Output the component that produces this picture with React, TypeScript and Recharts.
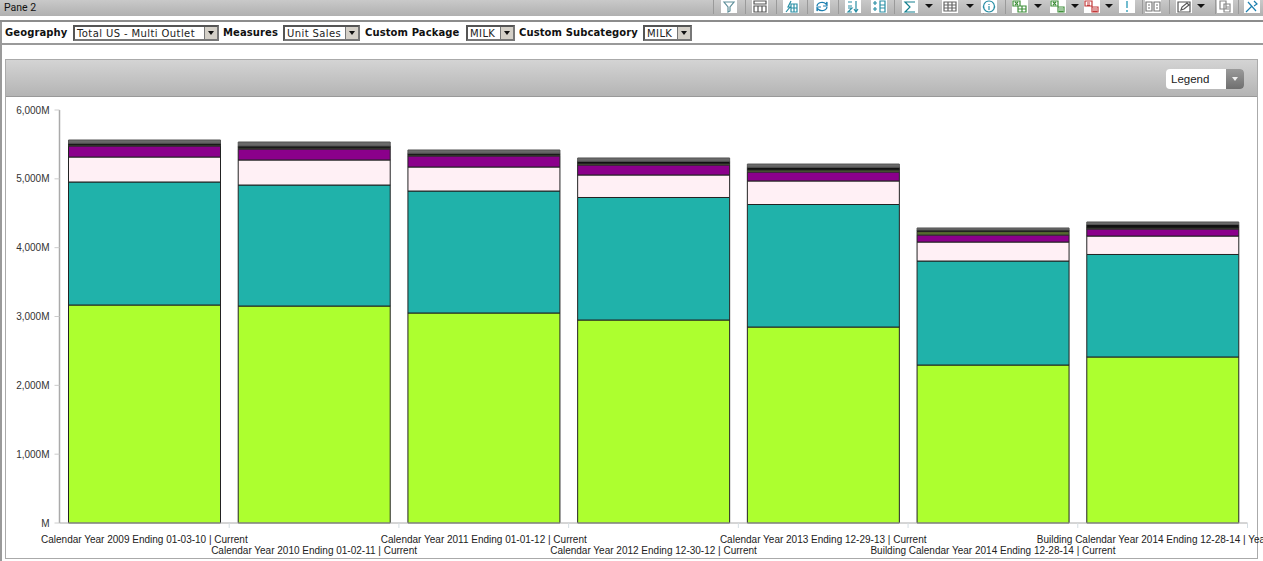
import { Bar, BarChart, XAxis, YAxis } from "recharts";

const categories = [
  "Calendar Year 2009 Ending 01-03-10 | Current",
  "Calendar Year 2010 Ending 01-02-11 | Current",
  "Calendar Year 2011 Ending 01-01-12 | Current",
  "Calendar Year 2012 Ending 12-30-12 | Current",
  "Calendar Year 2013 Ending 12-29-13 | Current",
  "Building Calendar Year 2014 Ending 12-28-14 | Current",
  "Building Calendar Year 2014 Ending 12-28-14 | Year Ago",
];

// segment heights per bar, bottom to top (millions of units)
const greenValues = [3167, 3152, 3051, 2949, 2847, 2295, 2412];
const tealValues = [1787, 1758, 1772, 1780, 1780, 1511, 1489];
const pinkValues = [363, 364, 349, 327, 342, 276, 268];
const purpleValues = [160, 159, 160, 145, 130, 102, 102];
const oliveValues = [15, 15, 15, 20, 30, 50, 15];
const blackValues = [25, 30, 25, 35, 40, 22, 50];
const greyValues = [47, 57, 47, 47, 46, 30, 37];

const yTicks = [0, 1000, 2000, 3000, 4000, 5000, 6000];

const filters = [
  { label: "Geography", labelX: 5, value: "Total US - Multi Outlet", x: 73, width: 146 },
  { label: "Measures", labelX: 223, value: "Unit Sales", x: 283, width: 77 },
  { label: "Custom Package", labelX: 365, value: "MILK", x: 466, width: 49 },
  { label: "Custom Subcategory", labelX: 519, value: "MILK", x: 643, width: 49 },
];

// toolbar icons: left edge of the white box, colour, small path in a 16x13 box
const toolbarIcons: Array<[number, string, string]> = [
  [721, "#5f8f9a", "M3 2h10l-4 5v4l-2 1V7z"],
  [752, "#555", "M2 1h12v3H2zM2 6h12v6H2zM6 6v6M10 6v6"],
  [783, "#2a8fa5", "M3 12l4-5H5l3-6M8 4h6v8H8zM8 8h6M11 4v8"],
  [814, "#1c7fb0", "M3 6a5 4 0 0 1 9-2l1-2v4h-4M13 7a5 4 0 0 1-9 2l-1 2V7h4"],
  [845, "#2a8fa5", "M3 2h4M3 6h4M3 8h4l-4 4h4M11 1v11M9 9l2 3 2-3"],
  [871, "#2a8fa5", "M2 3h4M4 1v4M2 9h4M4 7v4M9 1h5v11H9zM9 5h5M9 8h5"],
  [902, "#14808f", "M13 2H3l5 5-5 5h10"],
  [942, "#666", "M2 2h12v9H2zM2 5h12M2 8h12M6 2v9M10 2v9"],
  [981, "#2a8fa5", "M8 1a5.5 5.5 0 1 0 .01 0M8 4v1M8 6v4"],
  [1012, "#3f8f3a", "M1 1h7v5H1zM3 2l3 3M6 2L3 5M6 6h8v6H6zM10 6v6M6 9h8"],
  [1050, "#3f8f3a", "M1 1h7v5H1zM3 2l3 3M6 2L3 5M8 7h6v5H8zM9 9h4M9 11h4"],
  [1084, "#c23a3a", "M1 1h7v5H1zM3 3h3M3 5h3M8 7h6v5H8zM9 9h4M9 11h4"],
  [1119, "#1490b0", "M8 1v7M8 10v2"],
  [1145, "#777", "M1 2h6v9H1zM9 2h6v9H9zM3 5h2M3 8h2M11 5h2M11 8h2"],
  [1176, "#555", "M2 2h12v10H2zM5 10l1-3 5-4 2 2-5 4z"],
  [1217, "#888", "M3 1h6v8H3zM7 4h6v8H7zM9 7h3M9 9h3"],
  [1244, "#1c7fb0", "M2 12l6-6M4 2l8 9M10 1l3 3-3 2"],
];
const toolbarCarets = [929, 970, 1038, 1075, 1109, 1201];
const toolbarSeparators = [713, 745, 776, 807, 838, 894, 983, 1005, 1142, 1169, 1215, 1238];

const rows = categories.map((name, i) => ({
  name,
  green: greenValues[i],
  teal: tealValues[i],
  pink: pinkValues[i],
  purple: purpleValues[i],
  olive: oliveValues[i],
  black: blackValues[i],
  grey: greyValues[i],
}));

const uiFont = "'DejaVu Sans', Verdana, sans-serif";
const chartFont = "'Liberation Sans', Arial, sans-serif";
const BAND = 169.7;

function formatY(value: number) {
  return value === 0 ? "M" : `${value.toLocaleString("en-US")}M`;
}

function StaggeredTick({ x, y, payload, index }: any) {
  return (
    <g>
      <line x1={x + BAND / 2} x2={x + BAND / 2} y1={y - 8} y2={y - 3} stroke="#d5dde2" />
      <text
        x={x}
        y={index % 2 === 0 ? y + 12 : y + 23}
        textAnchor="middle"
        fontSize={10}
        fontFamily={chartFont}
        fill="#222"
      >
        {payload.value}
      </text>
    </g>
  );
}

function Dropdown({ value, x, width }: { value: string; x: number; width: number }) {
  return (
    <div
      style={{
        position: "absolute",
        left: x,
        top: 25,
        display: "flex",
        alignItems: "center",
        justifyContent: "space-between",
        boxSizing: "border-box",
        width,
        height: 16,
        border: "2px solid #777",
        borderTopColor: "#555",
        borderLeftColor: "#555",
        background: "#fff",
        fontSize: 10,
        paddingLeft: 2,
        letterSpacing: 0.4,
        whiteSpace: "nowrap",
        color: "#222",
      }}
    >
      {value}
      <div
        style={{
          width: 12,
          height: 12,
          background: "#d4d0c8",
          borderLeft: "1px solid #777",
          display: "flex",
          alignItems: "center",
          justifyContent: "center",
        }}
      >
        <div style={{ width: 0, height: 0, borderLeft: "3px solid transparent", borderRight: "3px solid transparent", borderTop: "4px solid #111" }} />
      </div>
    </div>
  );
}

function Toolbar() {
  return (
    <>
      {toolbarSeparators.map((x) => (
        <div key={x} style={{ position: "absolute", left: x, top: 0, width: 1, height: 14, background: "#9a9a9a" }} />
      ))}
      {toolbarIcons.map(([x, color, path]) => (
        <svg key={x} width={16} height={13} viewBox="0 0 16 13" style={{ position: "absolute", left: x, top: 0, background: "#fff" }}>
          <path d={path} fill="none" stroke={color} strokeWidth={1.2} />
        </svg>
      ))}
      {toolbarCarets.map((x) => (
        <div
          key={x}
          style={{
            position: "absolute",
            left: x - 4,
            top: 4,
            width: 0,
            height: 0,
            borderLeft: "4px solid transparent",
            borderRight: "4px solid transparent",
            borderTop: "4px solid #111",
          }}
        />
      ))}
    </>
  );
}

export default function App() {
  return (
    <div style={{ position: "absolute", left: 0, top: 0, width: 1263, height: 561, overflow: "hidden", background: "#fff", fontFamily: uiFont }}>
      {/* title strip */}
      <div style={{ position: "absolute", left: 0, top: 0, width: 1263, height: 16, background: "linear-gradient(#c9c9c9, #b0b0b0)" }} />
      <div style={{ position: "absolute", left: 4, top: 1, fontSize: 10.5, fontFamily: "Roboto, sans-serif", color: "#111" }}>Pane 2</div>
      <Toolbar />

      {/* filter bar */}
      <div style={{ position: "absolute", left: 0, top: 20, width: 1263, height: 2, background: "#8c8c8c" }} />
      <div style={{ position: "absolute", left: 0, top: 43, width: 1263, height: 2, background: "#9a9a9a" }} />
      <div style={{ position: "absolute", left: 0, top: 22, width: 2, height: 539, background: "#9a9a9a" }} />
      {filters.map((f) => (
        <div key={f.label}>
          <div style={{ position: "absolute", left: f.labelX, top: 27, fontSize: 10, fontWeight: 700, letterSpacing: 0.1, whiteSpace: "nowrap", color: "#111" }}>
            {f.label}
          </div>
          <Dropdown value={f.value} x={f.x} width={f.width} />
        </div>
      ))}

      {/* chart panel */}
      <div style={{ position: "absolute", left: 5, top: 59, width: 1253, height: 500, boxSizing: "border-box", border: "1px solid #aaa", background: "#fff" }} />
      <div style={{ position: "absolute", left: 6, top: 60, width: 1251, height: 36, background: "linear-gradient(#d4d4d4, #b4b4b4)", borderBottom: "1px solid #999" }} />
      <div
        style={{
          position: "absolute",
          left: 1166,
          top: 69,
          width: 78,
          height: 20,
          borderRadius: 4,
          background: "#fff",
          overflow: "hidden",
          fontFamily: chartFont,
          fontSize: 11.5,
          lineHeight: "20px",
          color: "#222",
          textIndent: 5,
        }}
      >
        Legend
        <div style={{ position: "absolute", right: 0, top: 0, width: 18, height: 20, background: "linear-gradient(#9a9a9a, #6f6f6f)" }}>
          <div style={{ margin: "8px auto 0", width: 0, height: 0, borderLeft: "3px solid transparent", borderRight: "3px solid transparent", borderTop: "4px solid #eee" }} />
        </div>
      </div>

      <div style={{ position: "absolute", left: 0, top: 0 }}>
        <BarChart width={1263} height={561} data={rows} margin={{ top: 110, right: 15.5, bottom: 0, left: 0 }} barSize={152}>
          <XAxis
            dataKey="name"
            height={38}
            interval={0}
            tick={<StaggeredTick />}
            tickLine={false}
            axisLine={{ stroke: "#aaa" }}
          />
          <YAxis
            width={59.5}
            domain={[0, 6000]}
            ticks={yTicks}
            tickFormatter={formatY}
            tick={{ fontSize: 10, fontFamily: chartFont, fill: "#333" }}
            tickLine={{ stroke: "#ccc" }}
            tickSize={5}
            tickMargin={5}
            axisLine={{ stroke: "#aaa", strokeWidth: 1.5 }}
          />
          <Bar dataKey="green" stackId="a" fill="#adff2f" stroke="#222" isAnimationActive={false} />
          <Bar dataKey="teal" stackId="a" fill="#20b2aa" stroke="#222" isAnimationActive={false} />
          <Bar dataKey="pink" stackId="a" fill="#fff0f5" stroke="#222" isAnimationActive={false} />
          <Bar dataKey="purple" stackId="a" fill="#8b008b" stroke="#222" isAnimationActive={false} />
          <Bar dataKey="olive" stackId="a" fill="#556b2f" stroke="#333" isAnimationActive={false} />
          <Bar dataKey="black" stackId="a" fill="#111" stroke="#222" isAnimationActive={false} />
          <Bar dataKey="grey" stackId="a" fill="#696969" stroke="#555" isAnimationActive={false} />
        </BarChart>
      </div>
    </div>
  );
}
